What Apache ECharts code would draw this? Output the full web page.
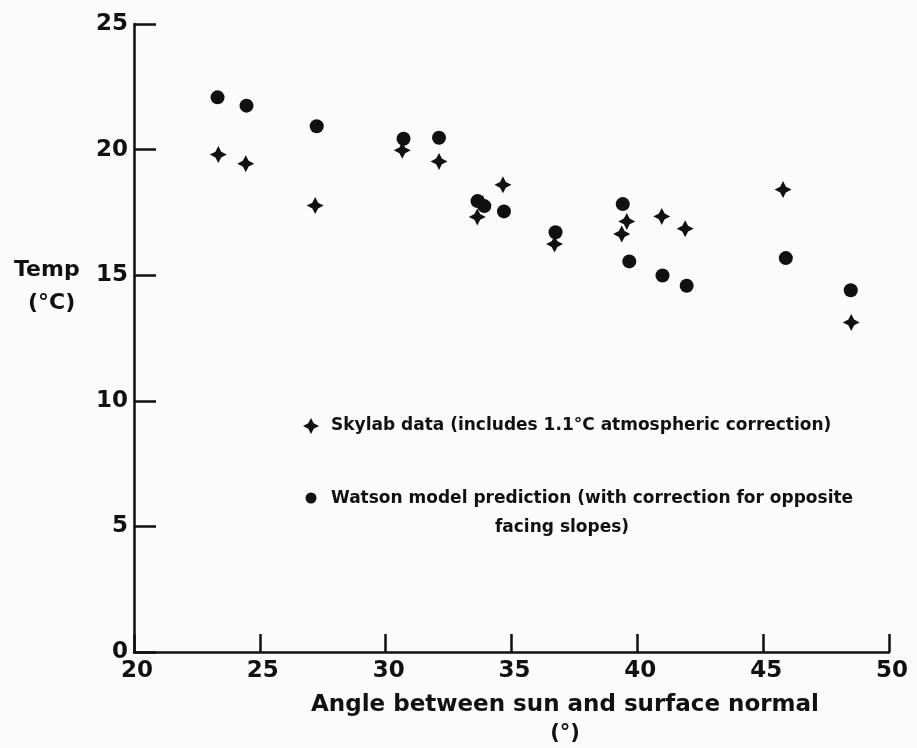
<!DOCTYPE html>
<html>
<head>
<meta charset="utf-8">
<script src="https://cdn.jsdelivr.net/npm/echarts@6/dist/echarts.min.js"></script>
<style>
html,body{margin:0;padding:0;background:#fbfbfb;}
#c{width:917px;height:748px;}
</style>
</head>
<body>
<div id="c"></div>
<script>
var xTicks = [20, 25, 30, 35, 40, 45, 50];
var yTicks = [0, 5, 10, 15, 20, 25];
var skylabX = [23.35, 24.44, 27.2, 30.66, 32.12, 33.64, 33.85, 34.66, 36.71, 39.38, 39.58, 40.97, 41.9, 45.79, 48.5];
var skylabY = [19.8, 19.44, 17.77, 19.97, 19.53, 17.32, 17.85, 18.6, 16.24, 16.64, 17.14, 17.34, 16.85, 18.41, 13.12];
var watsonX = [23.32, 24.47, 27.26, 30.71, 32.12, 33.65, 33.92, 34.7, 36.75, 39.42, 39.68, 41.0, 41.96, 45.9, 48.48];
var watsonY = [22.08, 21.75, 20.93, 20.43, 20.47, 17.95, 17.75, 17.54, 16.71, 17.83, 15.55, 14.99, 14.58, 15.68, 14.4];
var legendSkylab = 'Skylab data (includes 1.1°C atmospheric correction)';
var legendWatson1 = 'Watson model prediction (with correction for opposite';
var legendWatson2 = 'facing slopes)';
var xTitle1 = 'Angle between sun and surface normal';
var xTitle2 = '(°)';
var yTitle1 = 'Temp';
var yTitle2 = '(°C)';

var FONT = '"DejaVu Sans"';
var INK = '#111';
var starPath = 'path://M0,-10 L3.4,-3.4 L10,0 L3.4,3.4 L0,10 L-3.4,3.4 L-10,0 L-3.4,-3.4 Z';

function pairs(xs, ys){ return xs.map(function(x,i){ return [x, ys[i]]; }); }
function star(cx, cy, r){
  var k = r * 0.34;
  return [[cx, cy - r], [cx + k, cy - k], [cx + r, cy], [cx + k, cy + k], [cx, cy + r], [cx - k, cy + k], [cx - r, cy], [cx - k, cy - k]];
}

var chart = echarts.init(document.getElementById('c'));
chart.setOption({
  backgroundColor: '#fbfbfb',
  animation: false,
  grid: {left: 134, right: 28, top: 24, bottom: 96},
  xAxis: {
    type: 'value', min: xTicks[0], max: xTicks[xTicks.length-1], interval: 5,
    axisLine: {lineStyle: {color: INK, width: 2.5}},
    axisTick: {inside: true, length: 18, lineStyle: {color: INK, width: 2.5}},
    axisLabel: {color: INK, fontSize: 23, fontFamily: 'DejaVu Sans', fontWeight: 'bold', margin: 8, padding: [0, 0, 0, 6]},
    splitLine: {show: false}
  },
  yAxis: {
    type: 'value', min: yTicks[0], max: yTicks[yTicks.length-1], interval: 5,
    axisLine: {show: true, lineStyle: {color: INK, width: 2.5}},
    axisTick: {show: true, inside: true, length: 22, lineStyle: {color: INK, width: 2.5}},
    axisLabel: {color: INK, fontSize: 23, fontFamily: 'DejaVu Sans', fontWeight: 'bold', margin: 6},
    splitLine: {show: false}
  },
  graphic: [
    {type: 'text', x: 14, y: 270, style: {text: yTitle1, font: 'bold 22px ' + FONT, fill: INK, verticalAlign: 'middle'}},
    {type: 'text', x: 28, y: 303, style: {text: yTitle2, font: 'bold 22px ' + FONT, fill: INK, verticalAlign: 'middle'}},
    {type: 'text', x: 565, y: 705, style: {text: xTitle1, font: 'bold 23px ' + FONT, fill: INK, align: 'center', verticalAlign: 'middle'}},
    {type: 'text', x: 565, y: 734, style: {text: xTitle2, font: 'bold 21px ' + FONT, fill: INK, align: 'center', verticalAlign: 'middle'}},
    {type: 'polygon', shape: {points: star(311, 426, 8)}, style: {fill: INK}},
    {type: 'text', x: 331, y: 426, style: {text: legendSkylab, font: 'bold 17px ' + FONT, fill: INK, verticalAlign: 'middle'}},
    {type: 'circle', shape: {cx: 311, cy: 498, r: 5.5}, style: {fill: INK}},
    {type: 'text', x: 331, y: 499, style: {text: legendWatson1, font: 'bold 17px ' + FONT, fill: INK, verticalAlign: 'middle'}},
    {type: 'text', x: 562, y: 528, style: {text: legendWatson2, font: 'bold 17px ' + FONT, fill: INK, align: 'center', verticalAlign: 'middle'}}
  ],
  series: [
    {type: 'scatter', name: 'Skylab', symbol: starPath, symbolSize: 17, itemStyle: {color: INK, opacity: 1}, data: pairs(skylabX, skylabY)},
    {type: 'scatter', name: 'Watson', symbol: 'circle', symbolSize: 14, itemStyle: {color: INK, opacity: 1}, data: pairs(watsonX, watsonY)}
  ]
});
</script>
</body>
</html>
